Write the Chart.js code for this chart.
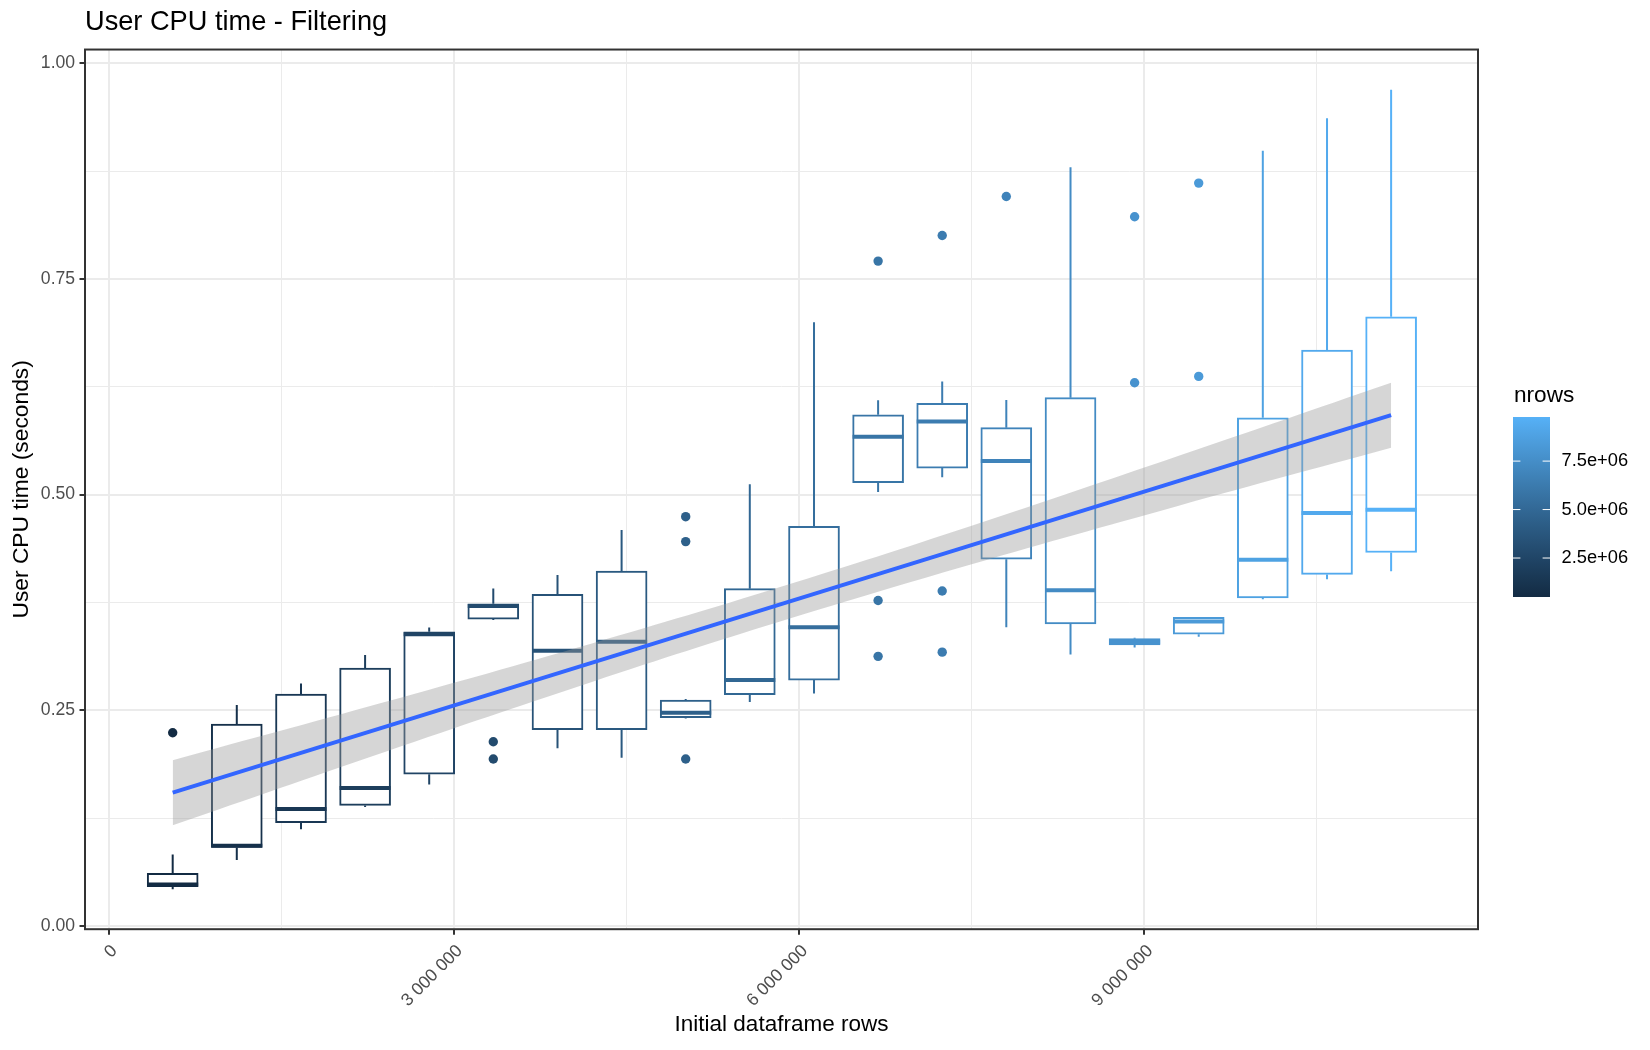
<!DOCTYPE html>
<html>
<head>
<meta charset="utf-8">
<title>User CPU time - Filtering</title>
<script src="https://cdn.jsdelivr.net/npm/chart.js@4.4.1/dist/chart.umd.min.js"></script>
<style>
  html, body { margin: 0; padding: 0; background: #ffffff; }
  #chart { display: block; }
</style>
</head>
<body>
<canvas id="chart" width="1650" height="1050"></canvas>
<script>
// Data

const rowPositions = [557000, 1114000, 1672000, 2229000, 2786000, 3343000, 3901000, 4458000, 5015000, 5572000,
  6130000, 6687000, 7244000, 7801000, 8359000, 8916000, 9473000, 10030000, 10588000, 11145000];
const nrows = [489000, 978000, 1466000, 1955000, 2444000, 2933000, 3421000, 3910000, 4399000, 4888000,
  5376000, 5865000, 6354000, 6843000, 7331000, 7820000, 8309000, 8798000, 9286000, 9775000];

const whiskerLow = [0.0425, 0.0765, 0.112, 0.138, 0.164, 0.3546, 0.2059, 0.195, 0.2405, 0.2597,
  0.2695, 0.5031, 0.52, 0.3462, 0.3147, 0.3227, 0.3351, 0.3786, 0.4019, 0.4111];
const q1 = [0.0456, 0.091, 0.1197, 0.1398, 0.176, 0.3557, 0.2275, 0.2275, 0.2416, 0.268,
  0.285, 0.5138, 0.5307, 0.4251, 0.3502, 0.3258, 0.3382, 0.3801, 0.4075, 0.4329];
const median = [0.048, 0.093, 0.1356, 0.16, 0.338, 0.3708, 0.319, 0.3295, 0.2473, 0.285,
  0.3462, 0.5671, 0.5848, 0.539, 0.3892, 0.3293, 0.3528, 0.4246, 0.4786, 0.4825];
const q3 = [0.061, 0.234, 0.2688, 0.299, 0.341, 0.3735, 0.3843, 0.4114, 0.2619, 0.391,
  0.4633, 0.5924, 0.6057, 0.5776, 0.6123, 0.333, 0.3577, 0.5891, 0.6675, 0.706];
const whiskerHigh = [0.083, 0.256, 0.281, 0.314, 0.346, 0.3913, 0.4067, 0.4589, 0.263, 0.512,
  0.6997, 0.6092, 0.631, 0.6096, 0.8793, 0.334, 0.358, 0.8985, 0.9363, 0.9693];
const outliers = [[0.224], [], [], [], [], [0.2136, 0.1935], [], [], [0.4744, 0.4455, 0.1935], [],
  [], [0.7706, 0.3773, 0.3125], [0.8003, 0.3883, 0.3174], [0.8455], [], [0.822, 0.6296], [0.861, 0.637], [], [], []];

// linear fit and its confidence band
const fitX = [557000, 11145000];
const fitY = [0.1545, 0.592];
const bandX = [557000, 2400000, 4200000, 5850000, 7500000, 9300000, 11145000];
const bandUpper = [0.1922, 0.2596, 0.3275, 0.3934, 0.4639, 0.545, 0.6297];
const bandLower = [0.1168, 0.2018, 0.2829, 0.3534, 0.4193, 0.4872, 0.5543];

// axes and legend ticks
const xMajorTicks = [0, 3000000, 6000000, 9000000];
const xMinorTicks = [1500000, 4500000, 7500000, 10500000];
const xTickLabels = ['0', '3 000 000', '6 000 000', '9 000 000'];
const yMajorTicks = [0, 0.25, 0.5, 0.75, 1];
const yMinorTicks = [0.125, 0.375, 0.625, 0.875];
const yTickLabels = ['0.00', '0.25', '0.50', '0.75', '1.00'];
const legendTicks = [2500000, 5000000, 7500000];
const legendTickLabels = ['2.5e+06', '5.0e+06', '7.5e+06'];

// Colour scale (nrows), interpolated in Lab like ggplot

const lowColour = '#132B43';
const highColour = '#56B1F7';
const nMin = Math.min(...nrows);
const nMax = Math.max(...nrows);

const WHITE = [0.95047, 1, 1.08883];
const toLab = (hex) => {
  const rgb = [1, 3, 5].map(k => parseInt(hex.substr(k, 2), 16) / 255)
    .map(c => c <= 0.04045 ? c / 12.92 : Math.pow((c + 0.055) / 1.055, 2.4));
  const xyz = [
    0.4124 * rgb[0] + 0.3576 * rgb[1] + 0.1805 * rgb[2],
    0.2126 * rgb[0] + 0.7152 * rgb[1] + 0.0722 * rgb[2],
    0.0193 * rgb[0] + 0.1192 * rgb[1] + 0.9505 * rgb[2],
  ];
  const f = xyz.map((v, k) => {
    const t = v / WHITE[k];
    return t > 0.008856 ? Math.cbrt(t) : 7.787 * t + 16 / 116;
  });
  return [116 * f[1] - 16, 500 * (f[0] - f[1]), 200 * (f[1] - f[2])];
};
const fromLab = ([L, A, B]) => {
  const fy = (L + 16) / 116;
  const fs = [fy + A / 500, fy, fy - B / 200];
  const xyz = fs.map((f, k) => (f > 0.206897 ? f * f * f : (f - 16 / 116) / 7.787) * WHITE[k]);
  const lin = [
    3.2406 * xyz[0] - 1.5372 * xyz[1] - 0.4986 * xyz[2],
    -0.9689 * xyz[0] + 1.8758 * xyz[1] + 0.0415 * xyz[2],
    0.0557 * xyz[0] - 0.2040 * xyz[1] + 1.0570 * xyz[2],
  ];
  const c = lin.map(v => v <= 0.0031308 ? 12.92 * v : 1.055 * Math.pow(v, 1 / 2.4) - 0.055)
    .map(v => Math.round(Math.min(1, Math.max(0, v)) * 255));
  return `rgb(${c.join(',')})`;
};
const lowLab = toLab(lowColour);
const highLab = toLab(highColour);

const colourAt = (t) => fromLab(lowLab.map((v, k) => v + t * (highLab[k] - v)));
const colourFor = (n) => colourAt((n - nMin) / (nMax - nMin));
const boxColours = nrows.map(colourFor);

const outlierPoints = [];
const outlierColours = [];
outliers.forEach((list, i) => {
  list.forEach((v) => {
    outlierPoints.push({ x: rowPositions[i], y: v });
    outlierColours.push(boxColours[i]);
  });
});

// Helpers

const fontFamily = '"Liberation Sans", Arial, Helvetica, sans-serif';
Chart.defaults.font.family = fontFamily;

const tickList = (major, minor) => [...major, ...minor].sort((a, b) => a - b).map(value => ({ value }));
const isMajor = (list, c) => {
  if (!c || !c.tick) return true;
  const v = c.tick.value;
  return list.some(m => Math.abs(m - v) < 1e-9 * Math.max(1, Math.abs(m)));
};

const gridFor = (major) => ({
  offset: false,
  color: '#EBEBEB',
  lineWidth: (c) => isMajor(major, c) ? 2 : 1,
  tickColor: (c) => isMajor(major, c) ? '#333333' : 'rgba(0,0,0,0)',
  tickWidth: 2,
  tickLength: 5.5,
});

// whiskers and medians on top of the boxes
const boxExtras = {
  id: 'boxExtras',
  afterDatasetDraw(chart, args) {
    if (args.index !== 0) return;
    const { ctx, scales: { y } } = chart;
    ctx.save();
    args.meta.data.forEach((bar, i) => {
      ctx.strokeStyle = boxColours[i];
      ctx.lineWidth = 2;
      ctx.beginPath();
      ctx.moveTo(bar.x, y.getPixelForValue(q3[i]));
      ctx.lineTo(bar.x, y.getPixelForValue(whiskerHigh[i]));
      ctx.moveTo(bar.x, y.getPixelForValue(q1[i]));
      ctx.lineTo(bar.x, y.getPixelForValue(whiskerLow[i]));
      ctx.stroke();
      const ym = y.getPixelForValue(median[i]);
      ctx.lineWidth = 4;
      ctx.beginPath();
      ctx.moveTo(bar.x - bar.width / 2, ym);
      ctx.lineTo(bar.x + bar.width / 2, ym);
      ctx.stroke();
    });
    ctx.restore();
  }
};

// panel border and colour bar legend
const panelAndLegend = {
  id: 'panelAndLegend',
  afterDraw(chart) {
    const { ctx, chartArea: a } = chart;
    ctx.save();
    ctx.strokeStyle = '#333333';
    ctx.lineWidth = 2;
    ctx.strokeRect(a.left, a.top, a.right - a.left, a.bottom - a.top);

    const barLeft = a.right + 35;
    const barRight = barLeft + 37;
    const barTop = 417;
    const barBottom = 597;

    ctx.fillStyle = '#000000';
    ctx.font = `22.6px ${fontFamily}`;
    ctx.textBaseline = 'alphabetic';
    ctx.textAlign = 'left';
    ctx.fillText('nrows', barLeft + 1, 401.5);

    const grad = ctx.createLinearGradient(0, barBottom, 0, barTop);
    for (let s = 0; s <= 10; s++) grad.addColorStop(s / 10, colourAt(s / 10));
    ctx.fillStyle = grad;
    ctx.fillRect(barLeft, barTop, barRight - barLeft, barBottom - barTop);

    ctx.strokeStyle = '#ffffff';
    ctx.lineWidth = 1;
    ctx.font = `18.3px ${fontFamily}`;
    ctx.textBaseline = 'middle';
    ctx.fillStyle = '#000000';
    const tickLen = (barRight - barLeft) / 5;
    legendTicks.forEach((v, k) => {
      const ty = barBottom - (v - nMin) / (nMax - nMin) * (barBottom - barTop);
      ctx.beginPath();
      ctx.moveTo(barLeft, ty);
      ctx.lineTo(barLeft + tickLen, ty);
      ctx.moveTo(barRight - tickLen, ty);
      ctx.lineTo(barRight, ty);
      ctx.stroke();
      ctx.fillText(legendTickLabels[k], barRight + 11.5, ty);
    });
    ctx.restore();
  }
};

// Chart

const ctx = document.getElementById('chart').getContext('2d');
const myChart = new Chart(ctx, {
  type: 'bar',
  data: {
    datasets: [
      {
        type: 'bar',
        data: rowPositions.map((x, i) => ({ x, y: [q1[i], q3[i]] })),
        backgroundColor: '#ffffff',
        borderColor: boxColours,
        borderWidth: 2,
        borderSkipped: false,
        barThickness: 51,
        order: 4,
      },
      {
        type: 'scatter',
        data: outlierPoints,
        pointBackgroundColor: outlierColours,
        pointBorderColor: 'rgba(0,0,0,0)',
        pointBorderWidth: 0,
        pointRadius: 4.7,
        order: 3,
      },
      {
        type: 'line',
        data: bandX.map((x, i) => ({ x, y: bandUpper[i] })),
        borderColor: 'rgba(0,0,0,0)',
        borderWidth: 0,
        pointRadius: 0,
        tension: 0.4,
        fill: '+1',
        backgroundColor: 'rgba(153,153,153,0.4)',
        order: 2,
      },
      {
        type: 'line',
        data: bandX.map((x, i) => ({ x, y: bandLower[i] })),
        borderColor: 'rgba(0,0,0,0)',
        borderWidth: 0,
        pointRadius: 0,
        tension: 0.4,
        fill: false,
        order: 2,
      },
      {
        type: 'line',
        data: fitX.map((x, i) => ({ x, y: fitY[i] })),
        borderColor: '#3366FF',
        borderWidth: 4,
        pointRadius: 0,
        fill: false,
        order: 1,
      },
    ],
  },
  options: {
    responsive: false,
    animation: false,
    devicePixelRatio: 1,
    events: [],
    layout: { padding: { top: 0, right: 172, bottom: 0, left: 0 } },
    plugins: {
      legend: { display: false },
      tooltip: { enabled: false },
      title: {
        display: true,
        text: 'User CPU time - Filtering',
        align: 'start',
        fullSize: false,
        color: '#000000',
        font: { size: 27.2, weight: 'normal' },
        padding: { top: 6, bottom: 10.9 },
      },
    },
    scales: {
      x: {
        type: 'linear',
        offset: false,
        min: -205000,
        max: 11900000,
        afterBuildTicks: (scale) => { scale.ticks = tickList(xMajorTicks, xMinorTicks); },
        afterFit: (scale) => { scale.height = 120.8; },
        ticks: {
          autoSkip: false,
          minRotation: 45,
          maxRotation: 45,
          padding: 6,
          labelOffset: 6,
          color: '#4D4D4D',
          font: { size: 17.6 },
          callback: (value) => {
            const k = xMajorTicks.indexOf(value);
            return k >= 0 ? xTickLabels[k] : '';
          },
        },
        grid: gridFor(xMajorTicks),
        border: { display: false },
        title: {
          display: true,
          text: 'Initial dataframe rows',
          color: '#000000',
          font: { size: 22.5 },
          padding: { top: 0, bottom: 12 },
        },
      },
      y: {
        type: 'linear',
        offset: false,
        min: -0.0037,
        max: 1.0158,
        afterBuildTicks: (scale) => { scale.ticks = tickList(yMajorTicks, yMinorTicks); },
        afterFit: (scale) => { scale.width = 85; },
        ticks: {
          autoSkip: false,
          padding: 4.4,
          color: '#4D4D4D',
          font: { size: 17.6 },
          callback: (value) => {
            const k = yMajorTicks.findIndex(m => Math.abs(m - value) < 1e-9);
            return k >= 0 ? yTickLabels[k] : '';
          },
        },
        grid: gridFor(yMajorTicks),
        border: { display: false },
        title: {
          display: true,
          text: 'User CPU time (seconds)',
          color: '#000000',
          font: { size: 22.8 },
          padding: { top: 8.5, bottom: 0 },
        },
      },
    },
  },
  plugins: [boxExtras, panelAndLegend],
});
</script>
</body>
</html>
